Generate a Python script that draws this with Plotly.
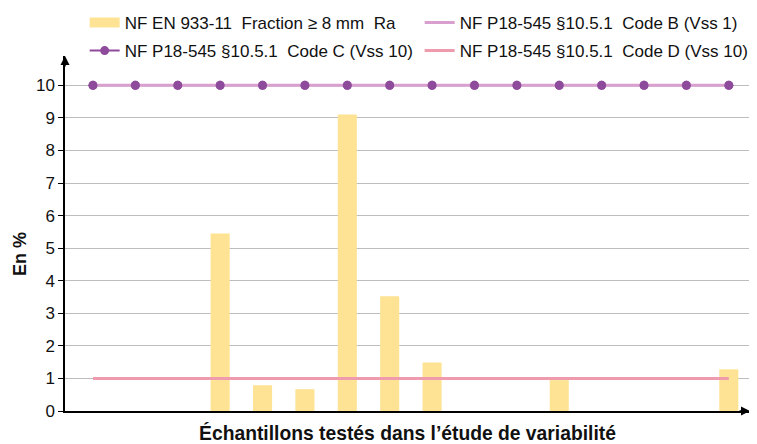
import plotly.graph_objects as go

# 16 samples
samples = list(range(16))
fraction_ra = [None, None, None, 5.45, 0.79, 0.67, 9.1, 3.52, 1.49, None, None, 0.95, None, None, None, 1.28]
code_b = [10] * 16
code_c = [10] * 16
code_d = [1] * 16

FONT = "Arial, Liberation Sans, sans-serif"
BAR_COLOR = "#FEE394"

fig = go.Figure()

fig.add_trace(go.Bar(
    x=samples, y=fraction_ra, width=0.45, showlegend=False,
    name="NF EN 933-11  Fraction ≥ 8 mm  Ra",
    marker=dict(color=BAR_COLOR, line=dict(width=0)),
))
fig.add_trace(go.Scatter(
    x=samples, y=code_c, mode="lines+markers", legend="legend2",
    name="NF P18-545 §10.5.1  Code C (Vss 10)",
    line=dict(color="#8E4A9B", width=2),
    marker=dict(color="#8E4A9B", size=9),
))
fig.add_trace(go.Scatter(
    x=samples, y=code_b, mode="lines", legend="legend", legendrank=2,
    name="NF P18-545 §10.5.1  Code B (Vss 1)",
    line=dict(color="#D99FCF", width=3),
))
# markers of Code C drawn again over the Code B line
fig.add_trace(go.Scatter(
    x=samples, y=code_c, mode="markers", showlegend=False, hoverinfo="skip",
    marker=dict(color="#8E4A9B", size=9),
))
fig.add_trace(go.Scatter(
    x=samples, y=code_d, mode="lines", legend="legend2",
    name="NF P18-545 §10.5.1  Code D (Vss 10)",
    line=dict(color="#F09AAE", width=3),
))
# legend entry for the bars (wide swatch)
fig.add_trace(go.Scatter(
    x=[None], y=[None], mode="lines", legend="legend", legendrank=1,
    name="NF EN 933-11  Fraction ≥ 8 mm  Ra",
    line=dict(color=BAR_COLOR, width=12),
))

legend_common = dict(
    orientation="h", xanchor="left", yanchor="middle",
    font=dict(size=17, family=FONT, color="#111111"),
    entrywidth=290, entrywidthmode="pixels", itemwidth=30,
    bgcolor="rgba(0,0,0,0)",
)

# page body has an 8px margin, so the figure is a bit smaller than the window
fig.update_layout(
    width=749, height=436,
    margin=dict(l=57, r=7, t=48, b=33, autoexpand=False),
    plot_bgcolor="white", paper_bgcolor="white",
    font=dict(family=FONT, color="#111111"),
    legend=dict(x=0.0287, y=1.093, **legend_common),
    legend2=dict(x=0.0287, y=1.014, **legend_common),
)

fig.update_xaxes(
    range=[-0.66, 15.5], showgrid=False, zeroline=False,
    showticklabels=False, ticks="", automargin=False,
    showline=True, linecolor="black", linewidth=1.5,
    title=dict(text="<b>Échantillons testés dans l’étude de variabilité</b>",
               font=dict(size=19.3, family=FONT), standoff=16),
)
fig.update_yaxes(
    range=[0, 10.9], tickvals=list(range(11)), automargin=False,
    showgrid=True, gridcolor="#BDBDBD", gridwidth=1.3, zeroline=False,
    showline=True, linecolor="black", linewidth=1.5,
    ticks="outside", ticklen=5, tickcolor="black",
    tickfont=dict(size=17, family=FONT),
)

# y title sits a little below the middle of the axis
fig.add_annotation(x=-0.0657, y=0.442, xref="paper", yref="paper", showarrow=False,
                   text="<b>En %</b>", textangle=-90, font=dict(size=18, family=FONT),
                   xanchor="center", yanchor="middle")

# axis arrows
fig.add_annotation(x=0, y=1.0, xref="paper", yref="paper", ax=0, ay=12, axref="pixel", ayref="pixel",
                   showarrow=True, arrowhead=2, arrowsize=1.2, arrowwidth=1.5, arrowcolor="black", text="")
fig.add_annotation(x=1.0, y=0, xref="paper", yref="paper", ax=-12, ay=0, axref="pixel", ayref="pixel",
                   showarrow=True, arrowhead=2, arrowsize=1.2, arrowwidth=1.5, arrowcolor="black", text="")

fig.write_html("out.html")
